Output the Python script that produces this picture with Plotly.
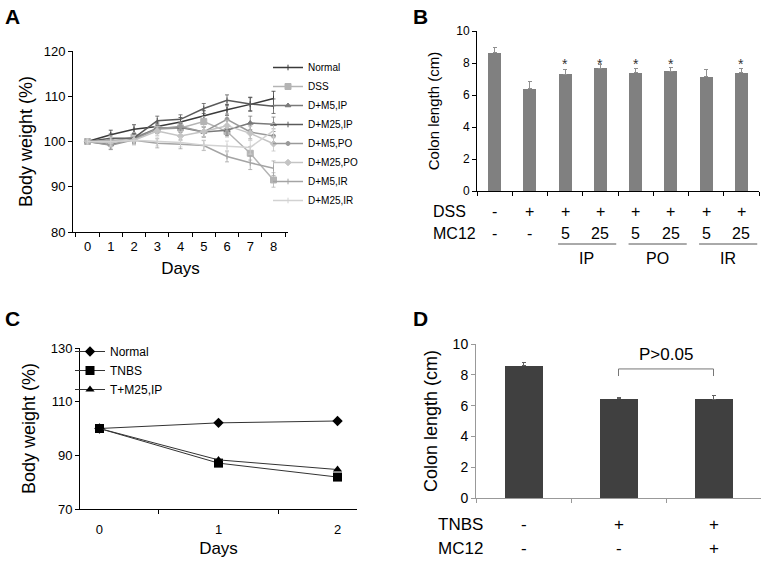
import plotly.graph_objects as go

W, H = 764, 562
FONT = "Liberation Sans, Arial, sans-serif"

# ---------------- Panel A data ----------------
days_a = ["0", "1", "2", "3", "4", "5", "6", "7", "8"]
a_names = ["Normal", "DSS", "D+M5,IP", "D+M25,IP", "D+M5,PO", "D+M25,PO", "D+M5,IR", "D+M25,IR"]
a_normal = [100, 101.5, 102.7, 103.3, 104.3, 105.7, 107.0, 108.2, 109.5]
a_dss = [100, 100.0, 101.0, 102.7, 103.0, 104.4, 102.2, 97.4, 91.5]
a_m5ip = [100, 99.3, 100.6, 103.0, 103.1, 102.1, 102.5, 104.1, 103.8]
a_m25ip = [100, 100.7, 100.8, 104.6, 104.9, 107.3, 109.1, 108.3, 107.8]
a_m5po = [100, 99.2, 100.4, 102.8, 103.3, 102.1, 104.9, 102.1, 101.2]
a_m25po = [100, 99.8, 100.3, 102.3, 101.2, 102.2, 103.5, 101.8, 99.5]
a_m5ir = [100, 100.3, 100.3, 99.6, 99.4, 99.1, 96.7, 95.3, 94.1]
a_m25ir = [100, 100.0, 100.3, 100.0, 99.8, 99.2, 98.9, 98.7, 102.4]
a_err = [0.6, 1.0, 1.0, 1.0, 1.0, 1.1, 1.2, 1.5, 1.6]

# ---------------- Panel B data ----------------
b_cats = ["Normal", "DSS", "IP5", "IP25", "PO5", "PO25", "IR5", "IR25"]
b_vals = [8.65, 6.40, 7.30, 7.68, 7.38, 7.50, 7.13, 7.38]
b_err = [0.30, 0.45, 0.30, 0.25, 0.30, 0.25, 0.45, 0.25]
b_star = [False, False, True, True, True, True, False, True]
b_dss = ["-", "+", "+", "+", "+", "+", "+", "+"]
b_mc12 = ["-", "-", "5", "25", "5", "25", "5", "25"]
b_groups = ["IP", "PO", "IR"]

# ---------------- Panel C data ----------------
days_c = ["0", "1", "2"]
c_names = ["Normal", "TNBS", "T+M25,IP"]
c_normal = [100, 102.1, 102.8]
c_tnbs = [100, 87.1, 81.9]
c_tm25 = [100, 88.3, 84.7]

# ---------------- Panel D data ----------------
d_cats = ["Normal", "TNBS", "TNBS+MC12"]
d_vals = [8.60, 6.43, 6.40]
d_err = [0.20, 0.08, 0.25]
d_tnbs = ["-", "+", "+"]
d_mc12 = ["-", "-", "+"]


def px_x(p):
    return p / W


def px_y(p):
    return 1 - p / H


fig = go.Figure()

# Panel A traces
a_series = [a_normal, a_dss, a_m5ip, a_m25ip, a_m5po, a_m25po, a_m5ir, a_m25ir]
a_colors = ["#3a3a3a", "#b4b4b4", "#7a7a7a", "#5a5a5a", "#9a9a9a", "#c4c4c4", "#a4a4a4", "#d2d2d2"]
a_symbols = ["line-ns-open", "square", "triangle-up", "line-ns-open", "circle", "diamond", "line-ns-open", "line-ns-open"]
a_sizes = [4, 6, 5, 4, 4, 5, 4, 4]
for name, vals, col, sym, sz in zip(a_names, a_series, a_colors, a_symbols, a_sizes):
    fig.add_trace(go.Scatter(
        x=days_a, y=vals, name=name, mode="lines+markers",
        line=dict(color=col, width=1.5),
        marker=dict(color=col, symbol=sym, size=sz, line=dict(color=col, width=1)),
        error_y=dict(type="data", array=a_err, color=col, thickness=0.8, width=2),
        xaxis="x", yaxis="y", legend="legend",
    ))

# Panel B bars
fig.add_trace(go.Bar(
    x=b_cats, y=b_vals, width=0.37, marker=dict(color="#808080", line=dict(width=0)),
    error_y=dict(type="data", symmetric=False, array=b_err, arrayminus=[0] * len(b_err),
                 color="#909090", thickness=1, width=2),
    xaxis="x2", yaxis="y2", showlegend=False,
))

# Panel C traces
c_series = [c_normal, c_tnbs, c_tm25]
c_symbols = ["diamond", "square", "triangle-up"]
c_sizes = [8, 9, 8]
for name, vals, sym, sz in zip(c_names, c_series, c_symbols, c_sizes):
    fig.add_trace(go.Scatter(
        x=days_c, y=vals, name=name, mode="lines+markers",
        line=dict(color="#333333", width=1),
        marker=dict(color="black", symbol=sym, size=sz),
        xaxis="x3", yaxis="y3", legend="legend2",
    ))

# Panel D bars
fig.add_trace(go.Bar(
    x=d_cats, y=d_vals, width=0.4, marker=dict(color="#404040", line=dict(width=0)),
    error_y=dict(type="data", symmetric=False, array=d_err, arrayminus=[0] * len(d_err),
                 color="#606060", thickness=1, width=2),
    xaxis="x4", yaxis="y4", showlegend=False,
))


def ax(linecolor="black", **kw):
    base = dict(showline=True, linecolor=linecolor, linewidth=1, ticks="outside",
                ticklen=4, tickcolor=linecolor, showgrid=False, zeroline=False, automargin=False)
    base.update(kw)
    return base


annotations = []
shapes = []

# Panel letters
for letter, x, y in [("A", 3, 3), ("B", 411, 3), ("C", 3, 305), ("D", 411, 305)]:
    annotations.append(dict(text=f"<b>{letter}</b>", x=px_x(x), y=px_y(y), xref="paper", yref="paper",
                            xanchor="left", yanchor="top", showarrow=False,
                            font=dict(family=FONT, size=21, color="black")))

# Panel B asterisks
for i, (c, s) in enumerate(zip(b_cats, b_star)):
    if s:
        annotations.append(dict(text="*", x=i, y=8.1, xref="x2", yref="y2", showarrow=False,
                                yanchor="middle", yshift=-3, font=dict(family=FONT, size=14, color="#333")))

# Panel B condition rows
annotations.append(dict(text="DSS", x=px_x(431), y=px_y(211), xref="paper", yref="paper", xanchor="left",
                        yanchor="middle", showarrow=False, font=dict(family=FONT, size=16, color="black")))
annotations.append(dict(text="MC12", x=px_x(431), y=px_y(233), xref="paper", yref="paper", xanchor="left",
                        yanchor="middle", showarrow=False, font=dict(family=FONT, size=16, color="black")))
for i in range(len(b_cats)):
    annotations.append(dict(text=b_dss[i], x=i, y=px_y(211), xref="x2", yref="paper", showarrow=False,
                            yanchor="middle", font=dict(family=FONT, size=16, color="black")))
    annotations.append(dict(text=b_mc12[i], x=i, y=px_y(233), xref="x2", yref="paper", showarrow=False,
                            yanchor="middle", font=dict(family=FONT, size=16, color="black")))
for g, name in enumerate(b_groups):
    i0 = 2 + 2 * g
    shapes.append(dict(type="line", xref="x2", yref="paper", x0=i0 - 0.2, x1=i0 + 1 + 0.45,
                       y0=px_y(244), y1=px_y(244), line=dict(color="#555", width=1)))
    annotations.append(dict(text=name, x=i0 + 0.62, y=px_y(258), xref="x2", yref="paper", showarrow=False,
                            yanchor="middle", font=dict(family=FONT, size=16, color="black")))

# Panel D condition rows
annotations.append(dict(text="TNBS", x=px_x(436), y=px_y(524), xref="paper", yref="paper", xanchor="left",
                        yanchor="middle", showarrow=False, font=dict(family=FONT, size=17, color="black")))
annotations.append(dict(text="MC12", x=px_x(436), y=px_y(548), xref="paper", yref="paper", xanchor="left",
                        yanchor="middle", showarrow=False, font=dict(family=FONT, size=17, color="black")))
for i in range(len(d_cats)):
    annotations.append(dict(text=d_tnbs[i], x=i, y=px_y(524), xref="x4", yref="paper", showarrow=False,
                            yanchor="middle", font=dict(family=FONT, size=17, color="black")))
    annotations.append(dict(text=d_mc12[i], x=i, y=px_y(548), xref="x4", yref="paper", showarrow=False,
                            yanchor="middle", font=dict(family=FONT, size=17, color="black")))

# Panel D bracket + p-value
shapes.append(dict(type="path", xref="x4", yref="y4",
                   path="M 1,7.92 L 1,8.38 L 2,8.38 L 2,7.92", line=dict(color="#777", width=1)))
annotations.append(dict(text="P>0.05", x=1.5, y=9.3, xref="x4", yref="y4", showarrow=False,
                        yanchor="middle", font=dict(family=FONT, size=17, color="black")))

fig.update_layout(
    template="none",
    width=W, height=H, margin=dict(l=0, r=0, t=0, b=0, pad=0),
    paper_bgcolor="white", plot_bgcolor="white",
    font=dict(family=FONT, color="black"),
    bargap=0,
    xaxis=ax(domain=[px_x(73), px_x(288)], anchor="y", type="category", tickson="boundaries",
             ticklabelstandoff=2,
             tickfont=dict(size=13), title=dict(text="Days", font=dict(size=17), standoff=9)),
    yaxis=ax(domain=[px_y(232), px_y(51)], anchor="x", range=[80, 120], dtick=10,
             tickfont=dict(size=13), title=dict(text="Body weight (%)", font=dict(size=18), standoff=6)),
    xaxis2=ax(domain=[px_x(477), px_x(759)], anchor="y2", type="category", tickson="boundaries",
              showticklabels=False),
    yaxis2=ax(domain=[px_y(191), px_y(31)], anchor="x2", range=[0, 10], dtick=2,
              tickfont=dict(size=12), title=dict(text="Colon length (cm)", font=dict(size=15), standoff=12)),
    xaxis3=ax(domain=[px_x(80), px_x(357)], anchor="y3", type="category", tickson="boundaries",
              ticklabelstandoff=8,
              tickfont=dict(size=13), title=dict(text="Days", font=dict(size=17), standoff=6)),
    yaxis3=ax(domain=[px_y(509), px_y(348)], anchor="x3", range=[70, 130], tick0=70, dtick=20,
              tickfont=dict(size=13), title=dict(text="Body weight (%)", font=dict(size=18), standoff=10)),
    xaxis4=ax(linecolor="#999", domain=[px_x(476), px_x(761)], anchor="y4", type="category",
              tickson="boundaries", showticklabels=False),
    yaxis4=ax(linecolor="#999", domain=[px_y(498), px_y(344)], anchor="x4", range=[0, 10], dtick=2,
              tickfont=dict(size=14), title=dict(text="Colon length (cm)", font=dict(size=18), standoff=10)),
    legend=dict(x=px_x(268), y=px_y(53), xanchor="left", yanchor="top", bgcolor="rgba(0,0,0,0)",
                font=dict(size=10, family=FONT), borderwidth=0, itemwidth=30),
    legend2=dict(x=px_x(70), y=px_y(337), xanchor="left", yanchor="top", bgcolor="rgba(0,0,0,0)",
                 font=dict(size=12, family=FONT), borderwidth=0, itemwidth=30),
    annotations=annotations, shapes=shapes,
)

fig.write_html("out.html", config={"displayModeBar": False},
               post_script="document.body.style.margin='0';document.body.style.padding='0';")
